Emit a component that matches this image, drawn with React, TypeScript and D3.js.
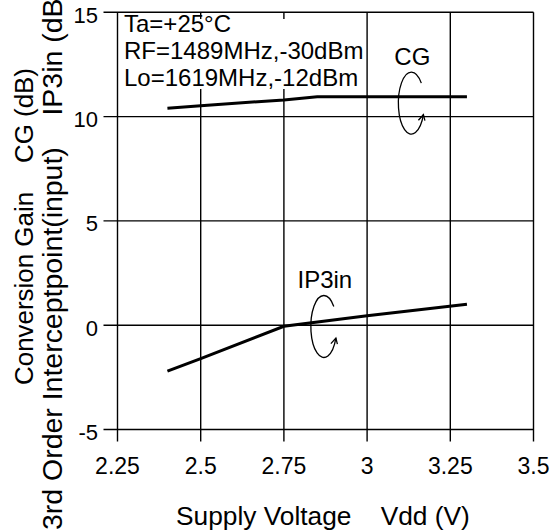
import React from "react";
import * as d3 from "d3";

const xTicks = [2.25, 2.5, 2.75, 3, 3.25, 3.5];
const yTicks = [-5, 0, 5, 10, 15];
const xTickLabels = ["2.25", "2.5", "2.75", "3", "3.25", "3.5"];
const yTickLabels = ["-5", "0", "5", "10", "15"];

const cgVdd = [2.4, 2.5, 2.75, 2.85, 3.0, 3.3];
const cgValues = [10.4, 10.52, 10.8, 10.95, 10.95, 10.95];
const ip3Vdd = [2.4, 2.5, 2.75, 3.0, 3.3];
const ip3Values = [-2.2, -1.6, -0.05, 0.45, 1.0];

const conditions = ["Ta=+25°C", "RF=1489MHz,-30dBm", "Lo=1619MHz,-12dBm"];
const seriesLabels = [
  { name: "CG", x: 3.136, y: 12.47 },
  { name: "IP3in", x: 2.873, y: 1.76 },
];
const xTitle = "Supply Voltage    Vdd (V)";
const yTitle1 = "Conversion Gain    CG (dB)";
const yTitle2 = "3rd Order Interceptpoint(input)    IP3in (dB)";

const W = 551;
const H = 530;
const FONT = "'Liberation Sans', Arial, Helvetica, sans-serif";

export default function App() {
  const x = d3.scaleLinear().domain([2.25, 3.5]).range([117.5, 533.5]);
  const y = d3.scaleLinear().domain([-5, 15]).range([429.5, 12.3]);
  const line = d3
    .line<[number, number]>()
    .x((d) => x(d[0]))
    .y((d) => y(d[1]));
  const cgData = cgVdd.map((v, i) => [v, cgValues[i]] as [number, number]);
  const ipData = ip3Vdd.map((v, i) => [v, ip3Values[i]] as [number, number]);

  const x0 = x(2.25);
  const x1 = x(3.5);
  const yTop = y(15);
  const yBot = y(-5);

  const loop = (lx: number, ly: number) => {
    const cx = lx - 1;
    const cy = ly + 38;
    const rx = 13;
    const ry = 31;
    const a0 = (-40 * Math.PI) / 180;
    const a1 = (22 * Math.PI) / 180;
    const sx = cx + rx * Math.cos(a0);
    const sy = cy + ry * Math.sin(a0);
    const ex = cx + rx * Math.cos(a1);
    const ey = cy + ry * Math.sin(a1);
    const arc = `M${sx},${sy} A${rx},${ry} 0 1 0 ${ex},${ey}`;
    const head = `M${ex - 5},${ey + 5.5} L${ex},${ey} L${ex + 1.5},${ey + 6}`;
    return { arc, head };
  };

  return (
    <svg
      width={W}
      height={H}
      style={{ position: "absolute", left: 0, top: 0, background: "#fff" }}
      fontFamily={FONT}
    >
      <rect x={0} y={0} width={W} height={H} fill="#fff" />
      {xTicks.map((t) => (
        <line
          key={"vx" + t}
          x1={x(t)}
          x2={x(t)}
          y1={yTop}
          y2={yBot + 12}
          stroke="#000"
          strokeWidth={1.4}
        />
      ))}
      {yTicks.map((t) => (
        <line
          key={"hy" + t}
          x1={x0 - 14}
          x2={x1}
          y1={y(t)}
          y2={y(t)}
          stroke="#000"
          strokeWidth={1.4}
        />
      ))}
      <rect x={x0 + 1.5} y={19} width={245} height={70} fill="#fff" />
      {conditions.map((c, i) => (
        <text key={c} x={124} y={32.3 + i * 26.6} fontSize={24} fill="#000">
          {c}
        </text>
      ))}
      {xTicks.map((t, i) => (
        <text
          key={"xl" + t}
          x={x(t)}
          y={474}
          fontSize={23}
          textAnchor="middle"
          fill="#000"
        >
          {xTickLabels[i]}
        </text>
      ))}
      {yTicks.map((t, i) => (
        <text
          key={"yl" + t}
          x={98}
          y={y(t) + 10.5}
          fontSize={22}
          textAnchor="end"
          fill="#000"
        >
          {yTickLabels[i]}
        </text>
      ))}
      <path d={line(cgData) || ""} fill="none" stroke="#000" strokeWidth={3} />
      <path d={line(ipData) || ""} fill="none" stroke="#000" strokeWidth={3} />
      {seriesLabels.map((s) => {
        const lx = x(s.x);
        const ly = y(s.y);
        const { arc, head } = loop(lx, ly);
        return (
          <g key={s.name}>
            <text x={lx} y={ly} fontSize={24} textAnchor="middle" fill="#000">
              {s.name}
            </text>
            <path d={arc} fill="none" stroke="#000" strokeWidth={1.3} />
            <path d={head} fill="none" stroke="#000" strokeWidth={1.3} />
          </g>
        );
      })}
      <text x={176} y={525} fontSize={26.3} fill="#000" style={{ whiteSpace: "pre" }}>
        {xTitle}
      </text>
      <text
        transform="translate(33,385) rotate(-90)"
        fontSize={26.5}
        fill="#000"
        style={{ whiteSpace: "pre" }}
        textLength={317}
        lengthAdjust="spacingAndGlyphs"
      >
        {yTitle1}
      </text>
      <text
        transform="translate(62,530) rotate(-90)"
        fontSize={27.5}
        fill="#000"
        style={{ whiteSpace: "pre" }}
        textLength={541}
        lengthAdjust="spacingAndGlyphs"
      >
        {yTitle2}
      </text>
    </svg>
  );
}
